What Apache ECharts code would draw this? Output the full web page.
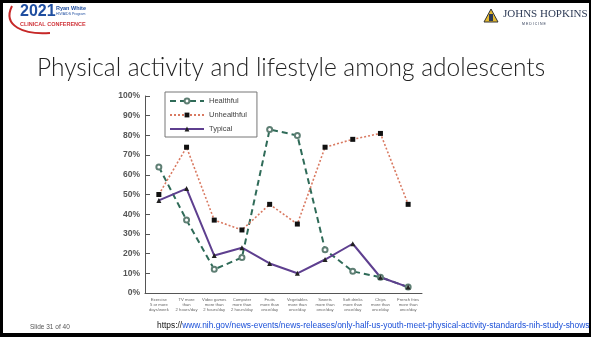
<!DOCTYPE html>
<html>
<head>
<meta charset="utf-8">
<script src="https://cdn.jsdelivr.net/npm/echarts@6/dist/echarts.min.js"></script>
<style>
  html, body { margin: 0; padding: 0; background: #fff; }
  #chart { width: 591px; height: 337px; }
</style>
</head>
<body>
<div id="chart"></div>
<script>
const categories = [
  'Exercise\n5 or more\ndays/week',
  'TV more\nthan\n2 hours/day',
  'Video games\nmore than\n2 hours/day',
  'Computer\nmore than\n2 hours/day',
  'Fruits\nmore than\nonce/day',
  'Vegetables\nmore than\nonce/day',
  'Sweets\nmore than\nonce/day',
  'Soft drinks\nmore than\nonce/day',
  'Chips\nmore than\nonce/day',
  'French fries\nmore than\nonce/day'
]
const healthful = [64, 37, 12, 18, 83, 80, 22, 11, 8, 3]
const unhealthful = [50, 74, 37, 32, 45, 35, 74, 78, 81, 45]
const typical = [47, 53, 19, 23, 15, 10, 17, 25, 8, 3]
const yTicks = [0, 10, 20, 30, 40, 50, 60, 70, 80, 90, 100]

const chart = echarts.init(document.getElementById('chart'))

const option = {
  backgroundColor: '#fff',
  animation: false,
  grid: {
    left: 145,
    right: 169,
    top: 96,
    bottom: 44
  },
  legend: {
    orient: 'vertical',
    left: 165,
    top: 92,
    padding: [5, 10, 4, 4],
    itemGap: 6,
    itemWidth: 34,
    itemHeight: 6,
    borderColor: '#777',
    borderWidth: 1,
    textStyle: {
      fontFamily: 'Liberation Sans',
      fontSize: 7.5,
      color: '#444'
    },
    data: ['Healthful', 'Unhealthful', 'Typical']
  },
  xAxis: {
    type: 'category',
    boundaryGap: true,
    data: categories,
    axisLine: { lineStyle: { color: '#555', width: 1 } },
    axisTick: { inside: true, length: 5, lineStyle: { color: '#555' } },
    axisLabel: {
      interval: 0,
      margin: 4,
      fontFamily: 'Liberation Sans',
      fontSize: 4.2,
      lineHeight: 5,
      color: '#666'
    },
    splitLine: { show: false }
  },
  yAxis: {
    type: 'value',
    min: yTicks[0],
    max: yTicks[yTicks.length - 1],
    interval: 10,
    axisLine: { show: true, lineStyle: { color: '#555', width: 1 } },
    axisTick: { show: true, inside: true, length: 5, lineStyle: { color: '#555' } },
    axisLabel: {
      margin: 5,
      fontFamily: 'Liberation Sans',
      fontWeight: 'bold',
      fontSize: 8.5,
      color: '#555',
      formatter: '{value}%'
    },
    splitLine: { show: false }
  },
  series: [{
    name: 'Healthful',
    type: 'line',
    data: healthful,
    symbol: 'emptyCircle',
    symbolSize: 5,
    lineStyle: { color: '#2f6b58', width: 2, type: [6, 4] },
    itemStyle: { color: '#5f7f74', borderColor: '#5f7f74', borderWidth: 1 }
  }, {
    name: 'Unhealthful',
    type: 'line',
    data: unhealthful,
    symbol: 'rect',
    symbolSize: 5,
    lineStyle: { color: '#d97a62', width: 1.6, type: [2, 2] },
    itemStyle: { color: '#111' }
  }, {
    name: 'Typical',
    type: 'line',
    data: typical,
    symbol: 'triangle',
    symbolSize: 5,
    lineStyle: { color: '#5e3f8f', width: 2 },
    itemStyle: { color: '#222' }
  }],
  graphic: [
    // slide frame
    { type: 'rect', shape: { x: 0, y: 0, width: 591, height: 3 }, style: { fill: '#000' }, silent: true },
    { type: 'rect', shape: { x: 0, y: 0, width: 3, height: 337 }, style: { fill: '#000' }, silent: true },
    { type: 'rect', shape: { x: 0, y: 333, width: 591, height: 4 }, style: { fill: '#000' }, silent: true },
    { type: 'rect', shape: { x: 589, y: 0, width: 2, height: 337 }, style: { fill: '#000' }, silent: true },
    // left logo
    {
      type: 'bezierCurve', silent: true,
      shape: { x1: 12, y1: 6, cpx1: 2, cpy1: 26, cpx2: 24, cpy2: 35, x2: 50, y2: 33 },
      style: { fill: 'none', stroke: '#c62828', lineWidth: 2 }
    },
    { type: 'text', left: 20, top: 4, style: { text: '2021', fontFamily: 'Liberation Sans', fontWeight: 'bold', fontSize: 16, fill: '#1f4ea0' } },
    { type: 'text', left: 56, top: 5, style: { text: 'Ryan White', fontFamily: 'Liberation Sans', fontWeight: 'bold', fontSize: 5.5, fill: '#1f4ea0' } },
    { type: 'text', left: 56, top: 12, style: { text: 'HIV/AIDS Program', fontFamily: 'Liberation Sans', fontSize: 3.5, fill: '#1f4ea0' } },
    { type: 'text', left: 20, top: 21, style: { text: 'CLINICAL CONFERENCE', fontFamily: 'Liberation Sans', fontWeight: 'bold', fontSize: 5.5, fill: '#d0343a' } },
    // right logo
    {
      type: 'polygon', silent: true,
      shape: { points: [[484, 22], [491, 9], [498, 22]] },
      style: { fill: '#e4b92f', stroke: '#333', lineWidth: 1 }
    },
    { type: 'rect', shape: { x: 489, y: 14, width: 4, height: 7 }, style: { fill: '#2d3a55' }, silent: true },
    { type: 'text', left: 503, top: 9, style: { text: 'JOHNS HOPKINS', fontFamily: 'Liberation Serif', fontSize: 11, fill: '#2d3a55' } },
    { type: 'text', left: 522, top: 22, style: { text: 'M E D I C I N E', fontFamily: 'Liberation Sans', fontSize: 3.5, fill: '#2d3a55' } },
    // title
    {
      type: 'text', left: 37, top: 56,
      style: {
        text: 'Physical activity and lifestyle among adolescents',
        fontFamily: 'Lato',
        fontWeight: 300,
        fontSize: 24.5,
        fill: '#222'
      }
    },
    // footer
    { type: 'text', left: 30, top: 324, style: { text: 'Slide 31 of 40', fontFamily: 'Liberation Sans', fontSize: 6.5, fill: '#555' } },
    {
      type: 'text', left: 157, top: 322,
      style: {
        rich: {
          b: { fontFamily: 'Liberation Sans', fontSize: 8.4, fill: '#111' },
          u: { fontFamily: 'Liberation Sans', fontSize: 8.4, fill: '#1a4fd8' }
        },
        text: '{b|https://}{u|www.nih.gov/news-events/news-releases/only-half-us-youth-meet-physical-activity-standards-nih-study-shows}'
      }
    }
  ]
}

chart.setOption(option)
</script>
</body>
</html>
